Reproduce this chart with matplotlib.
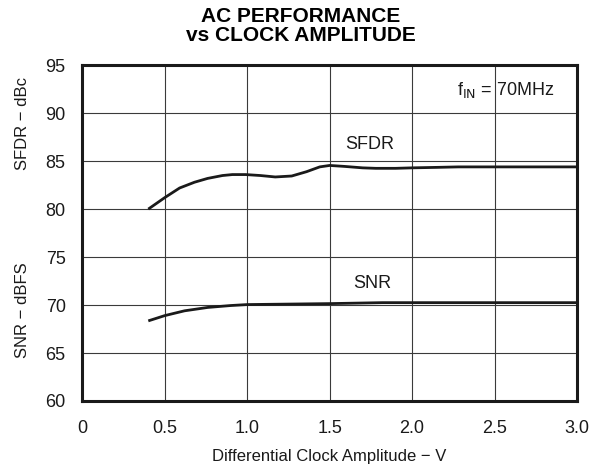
import numpy as np
import matplotlib.pyplot as plt

plt.rcParams['font.family'] = ['Liberation Sans', 'DejaVu Sans']

# --- data ---
sfdr_x = [0.40, 0.50, 0.59, 0.68, 0.76, 0.85, 0.91, 0.99, 1.08, 1.17, 1.27, 1.36, 1.44, 1.50,
          1.59, 1.70, 1.78, 1.90, 2.00, 2.15, 2.28, 2.50, 2.75, 3.00]
sfdr_y = [80.0, 81.2, 82.2, 82.8, 83.2, 83.5, 83.6, 83.6, 83.5, 83.35, 83.45, 83.9, 84.4, 84.55,
          84.45, 84.3, 84.25, 84.25, 84.3, 84.35, 84.4, 84.4, 84.4, 84.4]
snr_x = [0.40, 0.50, 0.62, 0.76, 0.90, 1.00, 1.25, 1.50, 1.82, 2.20, 2.60, 3.00]
snr_y = [68.35, 68.9, 69.4, 69.75, 69.95, 70.05, 70.1, 70.15, 70.25, 70.25, 70.25, 70.25]

x_ticks = [0, 0.5, 1.0, 1.5, 2.0, 2.5, 3.0]
x_tick_labels = ['0', '0.5', '1.0', '1.5', '2.0', '2.5', '3.0']
y_ticks = [60, 65, 70, 75, 80, 85, 90, 95]

fig = plt.figure(figsize=(6.01, 4.69), dpi=100)
ax = fig.add_axes([0.137, 0.145, 0.823, 0.716])

ax.plot(sfdr_x, sfdr_y, color='#1a1a1a', lw=2.0, solid_capstyle='butt')
ax.plot(snr_x, snr_y, color='#1a1a1a', lw=2.0, solid_capstyle='butt')

ax.set_xlim(0, 3.0)
ax.set_ylim(60, 95)
ax.set_xticks(x_ticks)
ax.set_xticklabels(x_tick_labels)
ax.set_yticks(y_ticks)
ax.tick_params(length=0, labelsize=13, colors='#1a1a1a')
ax.tick_params(axis='x', pad=14)
ax.tick_params(axis='y', pad=12)
ax.grid(True, color='#3a3a3a', lw=0.8)
for s in ax.spines.values():
    s.set_linewidth(2.2)
    s.set_color('#1a1a1a')

ax.set_xlabel('Differential Clock Amplitude − V', fontsize=12, labelpad=8, color='#1a1a1a')
fig.text(0.0375, 0.737, 'SFDR − dBc', rotation=90, fontsize=12, ha='center', va='center',
         color='#1a1a1a')
fig.text(0.0375, 0.338, 'SNR − dBFS', rotation=90, fontsize=12, ha='center', va='center',
         color='#1a1a1a')

ax.text(1.74, 86.7, 'SFDR', fontsize=13, ha='center', va='center', color='#1a1a1a')
ax.text(1.76, 72.2, 'SNR', fontsize=13, ha='center', va='center', color='#1a1a1a')
ax.text(2.57, 92.4, r'f$_{\mathrm{IN}}$ = 70MHz', fontsize=13, ha='center', va='center',
        color='#1a1a1a')

fig.text(0.5, 0.985, 'AC PERFORMANCE\nvs CLOCK AMPLITUDE', fontsize=15, fontweight='bold',
         ha='center', va='top', linespacing=1.0)

fig.savefig('out.png', dpi=100)
